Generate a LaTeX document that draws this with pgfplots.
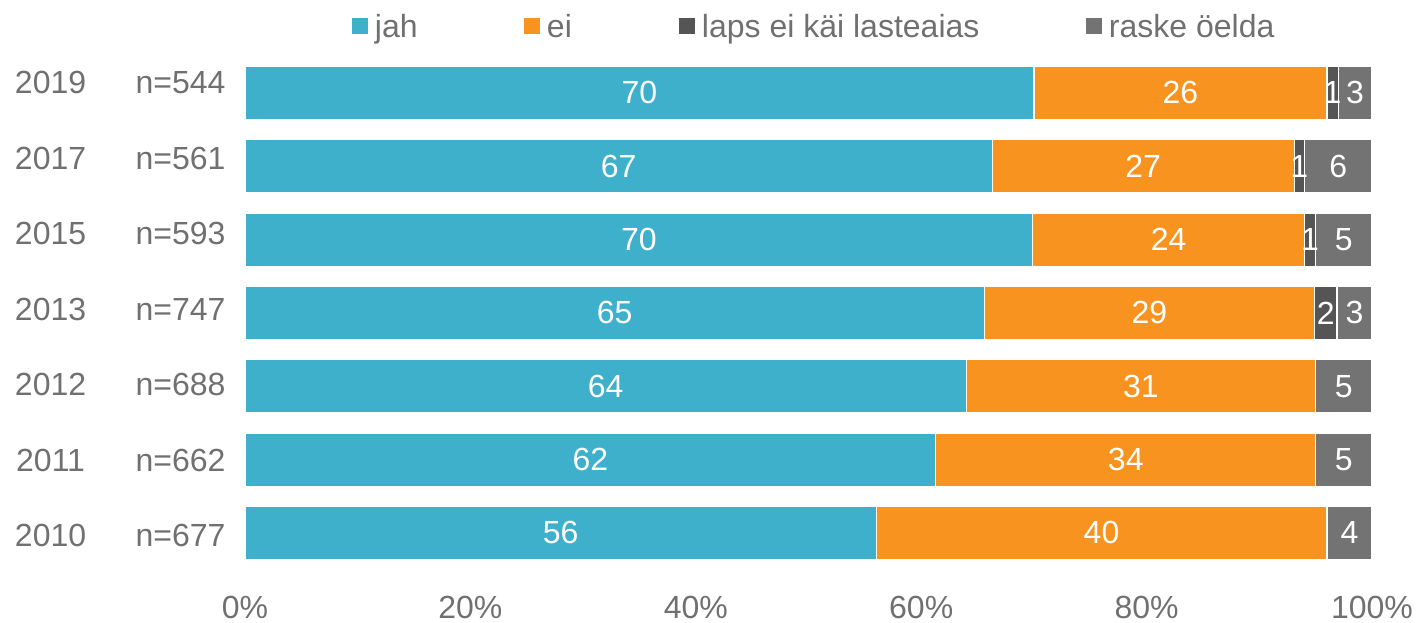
\documentclass[border=0pt]{standalone}
\usepackage{pgfplots}
\pgfplotsset{compat=1.18}
\usepackage{pgfplotstable}
\usepackage{fontspec}
\setmainfont{Liberation Sans}
\definecolor{cblue}{RGB}{62,176,204}
\definecolor{corange}{RGB}{247,147,30}
\definecolor{cdark}{RGB}{85,85,85}
\definecolor{cgrey}{RGB}{115,115,115}
\definecolor{ctext}{RGB}{112,112,112}
\newcommand\f{\fontsize{16}{19}\selectfont}

\pgfplotstableread{
y jah ei laps raske
0 56.0 40.0 0.0 4.0
1 61.3 33.7 0.0 5.0
2 64.0 31.0 0.0 5.0
3 65.6 29.3 2.0 3.1
4 69.9 24.1 1.0 5.0
5 66.3 26.8 0.9 6.0
6 70.0 26.0 1.0 3.0
}\bars

\pgfplotstableread{
x y label
28.0 0 56
76.0 0 40
98.0 0 4
30.65 1 62
78.15 1 34
97.5 1 5
32.0 2 64
79.5 2 31
97.5 2 5
32.8 3 65
80.25 3 29
95.9 3 2
98.45 3 3
34.95 4 70
81.95 4 24
94.5 4 1
97.5 4 5
33.15 5 67
79.7 5 27
93.55 5 1
97.0 5 6
35.0 6 70
83.0 6 26
96.5 6 1
98.5 6 3
}\labels

\begin{document}
\begin{tikzpicture}[font=\f]
\begin{axis}[
  name=ax,
  scale only axis, width=563.5pt, height=256.67pt,
  xbar stacked, bar width=26.6pt,
  xmin=0, xmax=100, ymin=-0.5, ymax=6.5,
  axis line style={draw=none},
  major tick length=0pt,
  xtick={0,20,40,60,80,100},
  xticklabels={0\%,20\%,40\%,60\%,80\%,100\%},
  xticklabel style={anchor=base, yshift=-24.3pt, inner sep=0pt, text=ctext, font=\f},
  ytick={-0.041,0.989,2.018,3.048,4.077,5.107,6.137},
  yticklabels={
    \makebox[36pt][c]{2010}\makebox[69.5pt][r]{n=677},
    \makebox[36pt][c]{2011}\makebox[69.5pt][r]{n=662},
    \makebox[36pt][c]{2012}\makebox[69.5pt][r]{n=688},
    \makebox[36pt][c]{2013}\makebox[69.5pt][r]{n=747},
    \makebox[36pt][c]{2015}\makebox[69.5pt][r]{n=593},
    \makebox[36pt][c]{2017}\makebox[69.5pt][r]{n=561},
    \makebox[36pt][c]{2019}\makebox[69.5pt][r]{n=544}},
  yticklabel style={anchor=east, inner sep=0pt, xshift=-9.5pt, text=ctext, font=\f},
  legend columns=4,
  legend image code/.code={\fill[#1,draw=none] (0pt,1.5pt) rectangle (8pt,9.5pt);},
  legend style={at={(axis description cs:0,1)}, anchor=west, xshift=53.5pt, yshift=14.45pt,
    draw=none, fill=none, inner sep=0pt, outer sep=0pt, font=\f,
    /tikz/column sep=0pt, /tikz/every odd column/.append style={column sep=3.5pt},
    cells={anchor=base west}, nodes={inner sep=0pt, text=ctext}},
  every axis plot/.append style={draw=white, line width=0.6pt},
  clip=false,
]
\addplot[fill=cblue] table[x=jah,y=y]{\bars};
\addlegendentry{\makebox[74.5pt][l]{jah}}
\addplot[fill=corange] table[x=ei,y=y]{\bars};
\addlegendentry{\makebox[66pt][l]{ei}}
\addplot[fill=cdark] table[x=laps,y=y]{\bars};
\addlegendentry{\makebox[192pt][l]{laps ei käi lasteaias}}
\addplot[fill=cgrey] table[x=raske,y=y]{\bars};
\addlegendentry{raske öelda}
\end{axis}
\begin{axis}[
  at={(ax.south west)}, anchor=south west,
  scale only axis, width=563.5pt, height=256.67pt,
  xmin=0, xmax=100, ymin=-0.5, ymax=6.5,
  hide axis, clip=false,
]
\addplot[only marks, mark=none, nodes near coords={\pgfplotspointmeta}, point meta=explicit symbolic,
  every node near coord/.style={anchor=center, text=white, font=\f, inner sep=0pt}]
  table[x=x,y=y,meta=label]{\labels};
\end{axis}
\pgfresetboundingbox
\path ([shift={(-122.5pt,-26.65pt)}]ax.south west) rectangle ([shift={(24pt,28.15pt)}]ax.north east);
\end{tikzpicture}
\end{document}
